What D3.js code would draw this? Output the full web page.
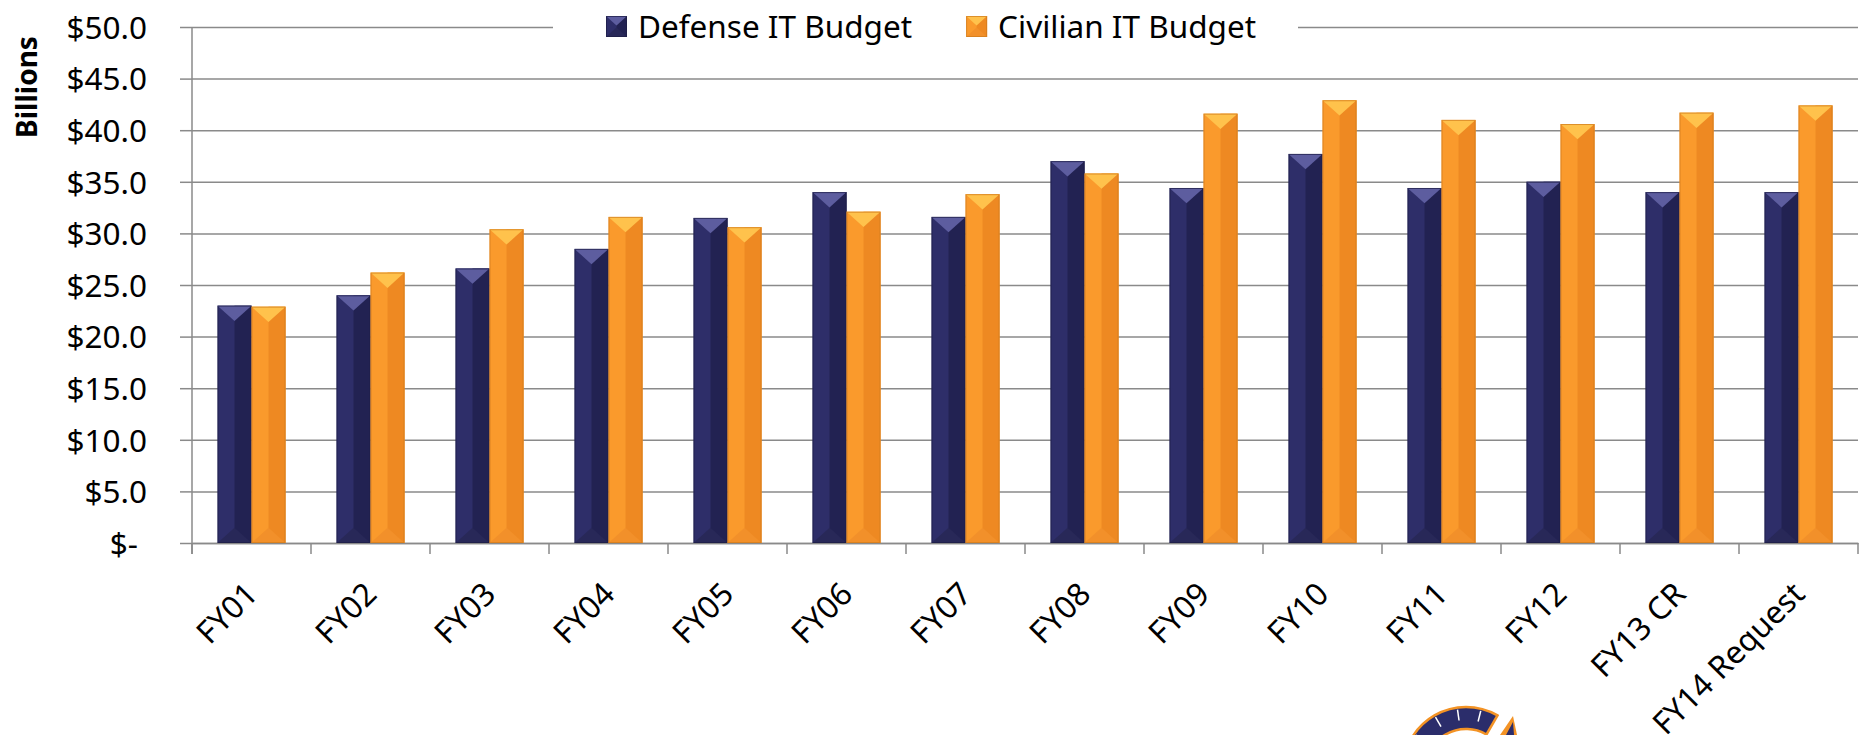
<!DOCTYPE html>
<head>
    <meta charset="utf-8">
    <title>Defense and Civilian IT Budget</title>
    <style>
        body { margin: 0; background: #fff; }
        svg text { font-family: "Noto Sans", sans-serif; fill: #000; }
    </style>
</head>
<body>

<script src="https://d3js.org/d3.v7.min.js"></script>

<script>

    var categories = ["FY01", "FY02", "FY03", "FY04", "FY05", "FY06", "FY07",
                      "FY08", "FY09", "FY10", "FY11", "FY12", "FY13 CR", "FY14 Request"];
    var defense  = [23.0, 24.0, 26.6, 28.5, 31.5, 34.0, 31.6, 37.0, 34.4, 37.7, 34.4, 35.0, 34.0, 34.0];
    var civilian = [22.9, 26.2, 30.4, 31.6, 30.6, 32.1, 33.8, 35.8, 41.6, 42.9, 41.0, 40.6, 41.7, 42.4];
    var seriesKeys = ["defense", "civilian"];
    var seriesNames = ["Defense IT Budget", "Civilian IT Budget"];
    var yTicks = [0, 5, 10, 15, 20, 25, 30, 35, 40, 45, 50];

    var margin = {top: 27, right: 6, bottom: 192, left: 192},
        width = 1864 - margin.left - margin.right,
        height = 735 - margin.top - margin.bottom;

    // bevelled bar colours, like the Excel "angle" bevel
    var palette = {
        defense:  {left: "#2e2e69", right: "#222252", top: "#5d5d9f", bottom: "#282858", stroke: "#1c1c45"},
        civilian: {left: "#fa9a2c", right: "#ee8922", top: "#ffc24c", bottom: "#f2902a", stroke: "#cf7a1c"}
    };
    var gridColor = "#8a8a8a";
    var fontSize = 31.5;

    var x = d3.scaleBand()
        .domain(categories)
        .range([0, width]);

    var x1 = d3.scaleBand()
        .domain(seriesKeys)
        .range([0, x.bandwidth()])
        .paddingInner(0)
        .paddingOuter(0.75);

    var y = d3.scaleLinear()
        .domain([0, 50])
        .range([height, 0]);

    var root = d3.select('body').append('svg')
        .attr('width', 1864)
        .attr('height', 735);

    var svg = root.append('g')
        .attr('transform', 'translate(' + margin.left + ',' + margin.top + ')');

    // gridlines
    svg.append('g')
        .attr('class', 'grid')
        .call(d3.axisLeft(y).tickValues(yTicks).tickSize(-width).tickFormat(''))
        .call(function(g) { g.select('.domain').remove(); })
        .selectAll('line')
        .attr('stroke', gridColor)
        .attr('stroke-width', 1.5);

    // y axis
    var yAxis = svg.append('g')
        .attr('class', 'y axis')
        .call(d3.axisLeft(y)
            .tickValues(yTicks)
            .tickSize(12)
            .tickPadding(33)
            .tickFormat(function(v) { return v === 0 ? '$-' : '$' + v.toFixed(1); }));

    yAxis.attr('font-family', null).attr('font-size', fontSize);
    yAxis.select('.domain').remove();
    yAxis.selectAll('line').attr('stroke', gridColor).attr('stroke-width', 1.5);
    yAxis.selectAll('text')
        .attr('dy', '0.36em')
        .attr('dx', function(v) { return v === 0 ? -9 : 0; });

    // vertical axis line
    svg.append('line')
        .attr('x1', 0).attr('x2', 0)
        .attr('y1', y(50)).attr('y2', height + 11)
        .attr('stroke', gridColor)
        .attr('stroke-width', 1.5);

    // x axis
    var xAxis = svg.append('g')
        .attr('class', 'x axis')
        .attr('transform', 'translate(0,' + height + ')')
        .call(d3.axisBottom(x).tickSize(0).tickSizeOuter(0).tickPadding(0));

    xAxis.attr('font-family', null).attr('font-size', fontSize);
    xAxis.select('.domain').attr('stroke', gridColor).attr('stroke-width', 1.5);
    xAxis.selectAll('.tick text')
        .attr('y', 0)
        .attr('dy', 0)
        .attr('text-anchor', 'end')
        .attr('transform', 'translate(8,53) rotate(-45)');

    // category boundary tick marks
    var bounds = categories.map(function(c) { return x(c); }).concat([x.range()[1]]);
    xAxis.selectAll('.bound')
        .data(bounds)
        .enter().append('line')
        .attr('class', 'bound')
        .attr('x1', function(d) { return d; })
        .attr('x2', function(d) { return d; })
        .attr('y1', 0)
        .attr('y2', 11)
        .attr('stroke', gridColor)
        .attr('stroke-width', 1.5);

    function bevel(g, x0, y0, w, h, pal) {
        var t = Math.min(w * 0.45, h / 2),
            cx = x0 + w / 2;
        g.append('rect')
            .attr('x', x0).attr('y', y0)
            .attr('width', w).attr('height', h)
            .attr('fill', pal.left);
        g.append('path')
            .attr('d', 'M' + cx + ',' + y0 + 'H' + (x0 + w) + 'V' + (y0 + h) + 'H' + cx + 'Z')
            .attr('fill', pal.right);
        g.append('path')
            .attr('d', 'M' + x0 + ',' + (y0 + h) + 'H' + (x0 + w) + 'L' + cx + ',' + (y0 + h - t) + 'Z')
            .attr('fill', pal.bottom);
        g.append('path')
            .attr('d', 'M' + x0 + ',' + y0 + 'H' + (x0 + w) + 'L' + cx + ',' + (y0 + t) + 'Z')
            .attr('fill', pal.top);
        g.append('rect')
            .attr('x', x0 + 0.5).attr('y', y0 + 0.5)
            .attr('width', w - 1).attr('height', h - 1)
            .attr('fill', 'none')
            .attr('stroke', pal.stroke)
            .attr('stroke-width', 1)
            .attr('stroke-opacity', 0.7);
    }

    // bars
    var group = svg.selectAll('.group')
        .data(categories)
        .enter().append('g')
        .attr('class', 'group')
        .attr('transform', function(d) { return 'translate(' + x(d) + ',0)'; });

    group.each(function(cat, i) {
        var g = d3.select(this);
        var vals = {defense: defense[i], civilian: civilian[i]};
        seriesKeys.forEach(function(key) {
            bevel(g.append('g').attr('class', 'bar ' + key),
                x1(key), y(vals[key]), x1.bandwidth(), y(0) - y(vals[key]), palette[key]);
        });
    });

    // legend, sitting on top of the top gridline
    var legend = root.append('g').attr('class', 'legend');

    legend.append('rect')
        .attr('x', 553).attr('y', 10)
        .attr('width', 745).attr('height', 34)
        .attr('fill', '#fff');

    var lx = 606;
    seriesKeys.forEach(function(key, i) {
        var item = legend.append('g');
        bevel(item, lx, 16, 21, 21, palette[key]);
        var label = item.append('text')
            .attr('x', lx + 32)
            .attr('y', 27)
            .attr('dy', '0.36em')
            .attr('font-size', fontSize)
            .text(seriesNames[i]);
        lx += 32 + label.node().getComputedTextLength() + 54;
    });

    // y axis title
    root.append('text')
        .attr('transform', 'translate(37,87) rotate(-90)')
        .attr('text-anchor', 'middle')
        .attr('font-size', 28)
        .attr('font-weight', 'bold')
        .text('Billions');

    // partial logo peeking in at the bottom edge
    var logo = root.append('g').attr('transform', 'translate(1466,770)');
    logo.append('path')
        .attr('d', d3.arc()({innerRadius: 41, outerRadius: 63, startAngle: -Math.PI / 2, endAngle: Math.PI / 6}))
        .attr('fill', '#2b2d6b')
        .attr('stroke', '#f39325')
        .attr('stroke-width', 2.5);
    [-55, -30, -8, 14].forEach(function(a) {
        var r = a * Math.PI / 180;
        logo.append('line')
            .attr('x1', 50 * Math.sin(r)).attr('y1', -50 * Math.cos(r))
            .attr('x2', 61 * Math.sin(r)).attr('y2', -61 * Math.cos(r))
            .attr('stroke', '#fff')
            .attr('stroke-width', 1.5);
    });
    logo.append('path')
        .attr('d', 'M34,-35L47,-54L51,-35Z')
        .attr('fill', '#f39325');
    logo.append('path')
        .attr('d', 'M40,-35L47,-48L48,-35Z')
        .attr('fill', '#2b2d6b');

</script>

</body>
